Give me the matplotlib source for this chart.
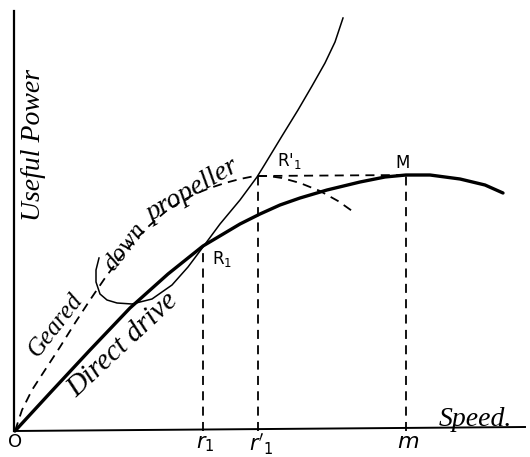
import matplotlib.pyplot as plt

# Direct drive useful power (thick curve)
direct_speed = [0, 35, 75, 115, 153, 188, 225, 245, 265, 285, 312, 345, 370, 391, 415, 445, 470, 488]
direct_power = [0, 38, 81, 123, 157, 185, 207, 217, 226, 233, 241, 249, 254, 256, 256, 252, 246, 238]

# Power required curve (thin)
req_speed = [84, 81, 81, 85, 92, 102, 117, 137, 157, 173, 188, 205, 225, 242, 250, 267, 283, 297, 310, 320, 328]
req_power = [173, 161, 149, 137, 131, 128, 127, 132, 146, 164, 184, 207, 231, 254, 267, 295, 321, 345, 368, 389, 413]

# Geared down propeller (dashed curve)
geared_speed = [0, 7, 17, 30, 45, 60, 75, 90, 105, 120, 135, 150, 165, 180, 195, 210, 225, 240, 253, 267, 285, 305, 323, 340]
geared_power = [0, 21, 41, 61, 84, 108, 131, 153, 173, 191, 206, 219, 229, 237, 243, 248, 252, 255, 255, 253, 248, 240, 230, 218]

# points R1, R1', M
r1 = (188, 184)
r1p = (243, 255)
m_pt = (391, 256)

fig = plt.figure(figsize=(5.3, 4.57), dpi=100)
ax = fig.add_axes([0, 0, 1, 1])
ax.set_xlim(-15, 515)
ax.set_ylim(-26, 431)
ax.axis('off')

# axes
ax.plot([-1, -1], [0, 420], color='black', lw=1.6)
ax.plot([-1, 510], [0, 4], color='black', lw=1.4)

ax.plot(direct_speed, direct_power, color='black', lw=2.4, solid_capstyle='round')
ax.plot(req_speed, req_power, color='black', lw=1.1)
ax.plot(geared_speed, geared_power, color='black', lw=1.3, dashes=(5, 3.5))

dash = dict(color='black', lw=1.3, dashes=(5, 3.5))
ax.plot([r1[0], r1[0]], [0, r1[1]], **dash)
ax.plot([r1p[0], r1p[0]], [0, r1p[1]], **dash)
ax.plot([m_pt[0], m_pt[0]], [0, m_pt[1]], **dash)
ax.plot([r1p[0], m_pt[0]], [r1p[1], m_pt[1]], **dash)

script = dict(family='Liberation Serif', style='italic', color='black')
ax.text(0, -11, 'O', fontsize=13, ha='center', va='center')
ax.text(190, -13, r'$r_1$', fontsize=15, ha='center', va='center')
ax.text(246, -13, r"$r'_1$", fontsize=15, ha='center', va='center')
ax.text(393, -11, r'$m$', fontsize=16, ha='center', va='center')
ax.text(460, 12, 'Speed.', fontsize=20, ha='center', va='center', **script)
ax.text(207, 172, r'R$_1$', fontsize=12, ha='center', va='center')
ax.text(274, 270, r"R$'_1$", fontsize=12, ha='center', va='center')
ax.text(388, 268, 'M', fontsize=12, ha='center', va='center')
ax.text(19, 286, 'Useful Power', fontsize=20, rotation=90, ha='center', va='center', **script)
ax.text(41, 106, 'Geared', fontsize=18, rotation=52, ha='center', va='center', **script)
ax.text(110, 184, 'down', fontsize=18, rotation=52, ha='center', va='center', **script)
ax.text(178, 240, 'propeller', fontsize=20, rotation=30, ha='center', va='center', **script)
ax.text(108, 86, 'Direct drive', fontsize=21, rotation=43, ha='center', va='center', **script)

fig.savefig('out.png', dpi=100)
